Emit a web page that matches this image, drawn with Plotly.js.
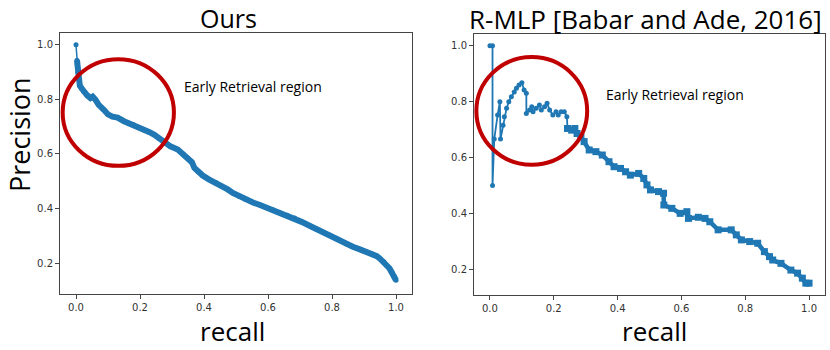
<!DOCTYPE html>
<html>
<head>
<meta charset="utf-8">
<script src="https://cdn.plot.ly/plotly-3.0.1.min.js"></script>
<style>
  body { margin: 0; background: #fff; }
  #grafica { width: 830px; height: 350px; }
</style>
</head>
<body>
<div id="grafica"></div>
<script>
// valores
var recallOurs = [0.0, 0.003, 0.004, 0.005, 0.006, 0.008, 0.012, 0.018, 0.024, 0.035,
    0.045, 0.052, 0.06, 0.071, 0.087, 0.1, 0.114, 0.13, 0.15, 0.165,
    0.18, 0.195, 0.213, 0.23, 0.245, 0.26, 0.276, 0.295, 0.318, 0.335,
    0.349, 0.362, 0.37, 0.382, 0.396, 0.415, 0.438, 0.455, 0.474, 0.49,
    0.511, 0.53, 0.553, 0.575, 0.595, 0.615, 0.636, 0.66, 0.683, 0.705,
    0.73, 0.75, 0.772, 0.793, 0.814, 0.83, 0.845, 0.865, 0.887, 0.905,
    0.924, 0.94, 0.95, 0.962, 0.971, 0.98, 0.987, 0.994, 1.0];
var precisionOurs = [1.0, 0.944, 0.93, 0.935, 0.9, 0.875, 0.85, 0.84, 0.829, 0.815,
    0.805, 0.81, 0.8, 0.78, 0.762, 0.745, 0.737, 0.733, 0.72, 0.713,
    0.707, 0.698, 0.688, 0.68, 0.67, 0.657, 0.64, 0.628, 0.616, 0.6,
    0.585, 0.57, 0.549, 0.535, 0.521, 0.507, 0.494, 0.482, 0.47, 0.457,
    0.444, 0.433, 0.422, 0.413, 0.404, 0.395, 0.385, 0.375, 0.365, 0.351,
    0.337, 0.325, 0.313, 0.302, 0.291, 0.28, 0.27, 0.26, 0.25, 0.242,
    0.234, 0.225, 0.216, 0.205, 0.191, 0.18, 0.167, 0.152, 0.137];

var recallMlp = [0.0, 0.008, 0.008, 0.0134, 0.024, 0.031, 0.033, 0.041, 0.045, 0.052,
    0.059, 0.067, 0.076, 0.083, 0.091, 0.1, 0.107, 0.114, 0.114, 0.124,
    0.131, 0.135, 0.145, 0.155, 0.161, 0.171, 0.179, 0.187, 0.197, 0.207,
    0.214, 0.223, 0.233, 0.241, 0.243, 0.256, 0.266, 0.273, 0.285, 0.295,
    0.311, 0.332, 0.352, 0.373, 0.389, 0.409, 0.425, 0.44, 0.466, 0.482,
    0.492, 0.503, 0.528, 0.544, 0.545, 0.57, 0.596, 0.617, 0.622, 0.653,
    0.674, 0.689, 0.715, 0.756, 0.772, 0.788, 0.814, 0.839, 0.86, 0.876,
    0.886, 0.912, 0.943, 0.964, 0.979, 0.99, 1.0];
var precisionMlp = [1.0, 1.0, 0.5, 0.666, 0.752, 0.8, 0.666, 0.716, 0.746, 0.776,
    0.8, 0.818, 0.835, 0.848, 0.86, 0.868, 0.842, 0.83, 0.758, 0.77,
    0.782, 0.764, 0.776, 0.788, 0.77, 0.782, 0.794, 0.77, 0.752, 0.764,
    0.752, 0.764, 0.764, 0.746, 0.704, 0.698, 0.704, 0.686, 0.674, 0.657,
    0.627, 0.621, 0.609, 0.585, 0.567, 0.561, 0.549, 0.537, 0.543, 0.525,
    0.502, 0.484, 0.478, 0.472, 0.43, 0.418, 0.4, 0.406, 0.382, 0.386,
    0.382, 0.37, 0.341, 0.341, 0.323, 0.305, 0.299, 0.293, 0.263, 0.245,
    0.233, 0.221, 0.197, 0.186, 0.168, 0.15, 0.15];

var tituloOurs = 'Ours';
var tituloMlp = 'R-MLP [Babar and Ade, 2016]';
var textoRegion = 'Early Retrieval region';

var azul = '#1f77b4';
var rojo = '#C00000';

var data = [
    { x: recallOurs, y: precisionOurs, type: 'scatter', mode: 'lines+markers',
      line: { color: azul, width: 1.5 }, marker: { color: azul, size: 5 },
      xaxis: 'x', yaxis: 'y' },
    { x: recallOurs.slice(1), y: precisionOurs.slice(1), type: 'scatter', mode: 'lines',
      line: { color: azul, width: 6 }, xaxis: 'x', yaxis: 'y' },
    { x: recallMlp, y: precisionMlp, type: 'scatter', mode: 'lines+markers',
      line: { color: azul, width: 1.8 }, marker: { color: azul, size: 5 },
      xaxis: 'x2', yaxis: 'y2' },
    { x: recallMlp.slice(34), y: precisionMlp.slice(34), type: 'scatter', mode: 'lines+markers',
      line: { color: azul, width: 4.5 }, marker: { color: azul, size: 7, symbol: 'square' },
      xaxis: 'x2', yaxis: 'y2' }
];

function eje(dominio, rango) {
    return {
        domain: dominio, range: rango,
        showgrid: false, zeroline: false,
        showline: true, mirror: true, linecolor: '#444', linewidth: 1,
        ticks: 'outside', ticklen: 4, tickcolor: '#444',
        dtick: 0.2, tick0: 0, tickformat: '.1f',
        tickfont: { family: 'DejaVu Sans', size: 10, color: '#333' }
    };
}

var xa = eje([0.0723, 0.4964], [-0.05, 1.05]); xa.anchor = 'y';
var ya = eje([0.16, 0.9057], [0.0865, 1.0435]); ya.anchor = 'x';
var xa2 = eje([0.5711, 0.994], [-0.05, 1.05]); xa2.anchor = 'y2';
var ya2 = eje([0.157, 0.903], [0.1075, 1.0425]); ya2.anchor = 'x2';

var letraRegion = { family: 'Open Sans', size: 14, color: '#000' };

var layout = {
    width: 830, height: 350,
    margin: { l: 0, r: 0, t: 0, b: 0 },
    paper_bgcolor: '#fff', plot_bgcolor: '#fff',
    showlegend: false,
    xaxis: xa, yaxis: ya, xaxis2: xa2, yaxis2: ya2,
    shapes: [
        { type: 'circle', xref: 'x', yref: 'y', x0: -0.0417, x1: 0.306, y0: 0.5564, y1: 0.9476,
          line: { color: rojo, width: 4 } },
        { type: 'circle', xref: 'x2', yref: 'y2', x0: -0.0426, x1: 0.3046, y0: 0.5742, y1: 0.9596,
          line: { color: rojo, width: 4 } }
    ],
    annotations: [
        { text: tituloOurs, xref: 'paper', yref: 'paper', x: 0.2753, y: 1,
          xanchor: 'center', yanchor: 'top', showarrow: false, borderpad: 0,
          font: { family: 'Open Sans', size: 25, color: '#000' } },
        { text: tituloMlp, xref: 'paper', yref: 'paper', x: 0.7775, y: 1,
          xanchor: 'center', yanchor: 'top', showarrow: false, borderpad: 0,
          font: { family: 'Open Sans', size: 26, color: '#000' } },
        { text: 'Precision', xref: 'paper', yref: 'paper', x: 0, y: 0.6157, textangle: -90,
          xanchor: 'left', yanchor: 'middle', showarrow: false, borderpad: 0,
          font: { family: 'Open Sans', size: 27, color: '#000' } },
        { text: 'recall', xref: 'paper', yref: 'paper', x: 0.28, y: 0,
          xanchor: 'center', yanchor: 'bottom', showarrow: false, borderpad: 0,
          font: { family: 'Open Sans', size: 26, color: '#000' } },
        { text: 'recall', xref: 'paper', yref: 'paper', x: 0.789, y: 0,
          xanchor: 'center', yanchor: 'bottom', showarrow: false, borderpad: 0,
          font: { family: 'Open Sans', size: 26, color: '#000' } },
        { text: textoRegion, xref: 'paper', yref: 'paper', x: 0.2193, y: 0.7529,
          xanchor: 'left', yanchor: 'middle', showarrow: false, font: letraRegion },
        { text: textoRegion, xref: 'paper', yref: 'paper', x: 0.7277, y: 0.7286,
          xanchor: 'left', yanchor: 'middle', showarrow: false, font: letraRegion }
    ]
};

Plotly.newPlot('grafica', data, layout, { staticPlot: true });
</script>
</body>
</html>
